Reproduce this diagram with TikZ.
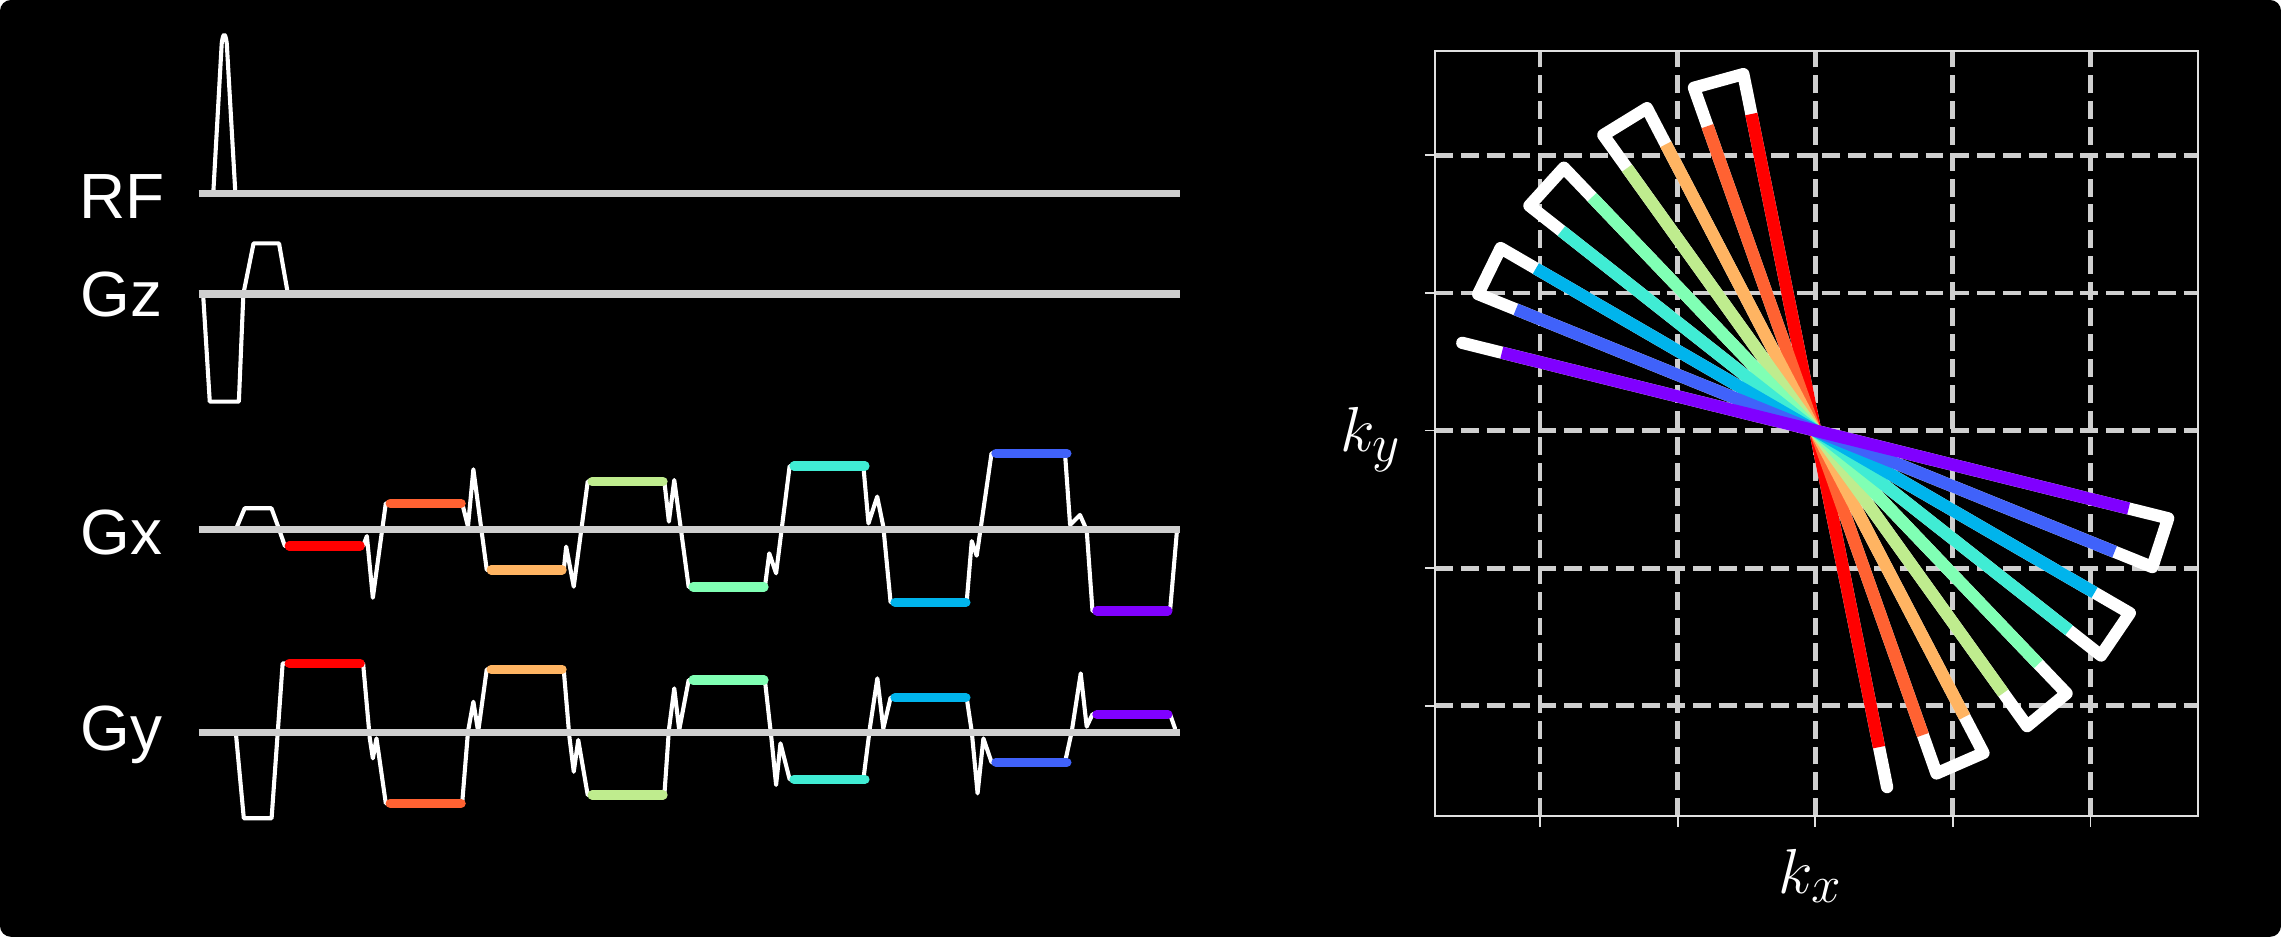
\documentclass[tikz,border=0pt]{standalone}
\usepackage{amsmath, amssymb}
\usepackage{fontspec}
\setmainfont{Liberation Sans}
\usepackage{tikz}
\usetikzlibrary{
	calc,
	positioning,
}
\definecolor{rb0}{HTML}{FF0000}
\definecolor{rb1}{HTML}{FF6232}
\definecolor{rb2}{HTML}{FFB462}
\definecolor{rb3}{HTML}{BFEC8E}
\definecolor{rb4}{HTML}{80FFB4}
\definecolor{rb5}{HTML}{40ECD4}
\definecolor{rb6}{HTML}{00B4EC}
\definecolor{rb7}{HTML}{4062FA}
\definecolor{rb8}{HTML}{8000FF}
\definecolor{axisgray}{HTML}{CFCFCF}
\tikzset{
	wave/.style={white, line width=1.6pt, line cap=round, line join=round},
	baseline/.style={axisgray, line width=2.9pt},
	plateau/.style={line width=3.6pt, line cap=round},
	chan/.style={white, anchor=base west, inner sep=0pt, font=\fontsize{25}{30}\selectfont},
	klabel/.style={white, anchor=base west, inner sep=0pt, font=\fontsize{31}{37}\selectfont},
	kgrid/.style={axisgray, line width=1.9pt, dash pattern=on 7pt off 3.1pt},
	kframe/.style={white!88!black, line width=0.7pt},
	spoke/.style={line width=4.8pt},
}

\begin{document}
\begin{tikzpicture}[x=0.02cm, y=-0.02cm]
				\useasboundingbox (0,0) rectangle (1568,644);
				\fill[white] (0,0) rectangle (1568,644);
				\fill[black, rounded corners=4.3pt] (0,0) rectangle (1568,644);
				% sequence diagram
				\draw[wave] (146.6,133) -- (152.4,30) .. controls (153.4,22) and (154.9,22) .. (155.9,30) -- (161.8,133);
				\draw[wave] (139.6,202) -- (144.2,276.1) -- (164.2,276.1) -- (167.3,202) -- (174.3,167.3) -- (191.8,167.3) -- (197.9,202);
				\draw[wave] (162.1,364) -- (168.2,349.4) -- (186.6,349.4) -- (191.9,364) -- (195.8,375.3) -- (249.6,375.3) -- (252.2,368.5) -- (256.3,410.9) -- (265.2,346) -- (317.7,346) -- (321.7,362) -- (325.4,322.6) -- (334.6,391.8) -- (387.5,391.8) -- (389.2,375.8) -- (394.4,403.3) -- (404,331) -- (456.7,331) -- (459.8,358.6) -- (463.5,330) -- (473.4,403.5) -- (525.8,403.5) -- (528.8,380.4) -- (533.5,394.1) -- (542.8,320.4) -- (593.5,320.4) -- (597,359.8) -- (603,341.4) -- (607.2,362) -- (612.2,414) -- (664.5,414) -- (668,372) -- (671.4,382) -- (681.6,311.6) -- (732.1,311.6) -- (735.6,360.9) -- (742.4,354) -- (747,364.3) -- (751,420) -- (804.3,420) -- (808.9,366.6);
				\draw[wave] (162.1,503.5) -- (167.6,562.5) -- (186.7,562.5) -- (194.3,456) -- (249.6,456) -- (254.2,507.6) -- (256.3,521.3) -- (258.8,507.6) -- (265.2,552.2) -- (317.7,552.2) -- (321.7,503) -- (325.4,482.4) -- (328.7,503) -- (334.6,460.1) -- (387.5,460.1) -- (391.4,506.4) -- (394.4,530.5) -- (397.5,508.7) -- (404,546.5) -- (456.7,546.5) -- (459.8,501.8) -- (463.5,473.2) -- (466.9,501.8) -- (473.4,467.5) -- (525.8,467.5) -- (530.4,508.7) -- (533.5,539.6) -- (536.5,511) -- (542.8,535.7) -- (593.5,535.7) -- (598.1,499.5) -- (603.1,466.3) -- (607.2,500.7) -- (612.2,479.6) -- (664.5,479.6) -- (668,503) -- (672,545.4) -- (676,507.6) -- (681.6,524) -- (732.1,524) -- (736.7,503) -- (742.9,462.9) -- (747,499.5) -- (751,491) -- (804.3,491) -- (807.7,500.7);
				\foreach \y in {133,202,364,503.5}
					\draw[baseline] (136.5,\y) -- (811,\y);
				\foreach \k/\gx/\gy in {0/375.3/456, 1/346/552.2, 2/391.8/460.1, 3/331/546.5, 4/403.5/467.5, 5/320.4/535.7, 6/414/479.6, 7/311.6/524, 8/420/491}{
					\draw[plateau, color=rb\k] (198.8+69.4*\k,\gx) -- (247.6+69.4*\k,\gx);
					\draw[plateau, color=rb\k] (198.8+69.4*\k,\gy) -- (247.6+69.4*\k,\gy);
				}
				\node[chan] (rf) at (54,150) {RF};
				\node[chan] (gz) at (55,217.7) {Gz};
				\node[chan] (gx) at (55,381.5) {Gx};
				\node[chan] (gy) at (55,515.6) {Gy};
				% k-space
				\begin{scope}[shift={(1247.8,296)}, yscale=-1]
					\foreach \i in {-2,...,2}{
						\draw[kgrid] (\i*94.6,-265) -- (\i*94.6,261.2);
						\draw[kgrid] (-261.3,\i*94.6) -- (263.2,\i*94.6);
						\draw[kframe] (-268.3,\i*94.6) -- (-261.3,\i*94.6);
						\draw[kframe] (\i*94.6,-265) -- (\i*94.6,-272.3);
					}
					\draw[kframe] (-261.3,-265) rectangle (263.2,261.2);
					\draw[spoke, white, line cap=round, line join=round] (281.4:250)
						foreach \k in {0,...,8}{
							-- ({101.4+8.08*\k+180*(1-mod(\k,2))}:250)
							-- ({101.4+8.08*\k+180*mod(\k,2)}:250)
						};
					\foreach \k in {0,...,8}
						\draw[spoke, color=rb\k] ({101.4+8.08*\k}:222) -- ({281.4+8.08*\k}:222);
				\end{scope}
				\node[klabel] (ky) at (921,310.5) {$k_y$};
				\node[klabel] (kx) at (1222.5,614) {$k_x$};
			\end{tikzpicture}
\end{document}
